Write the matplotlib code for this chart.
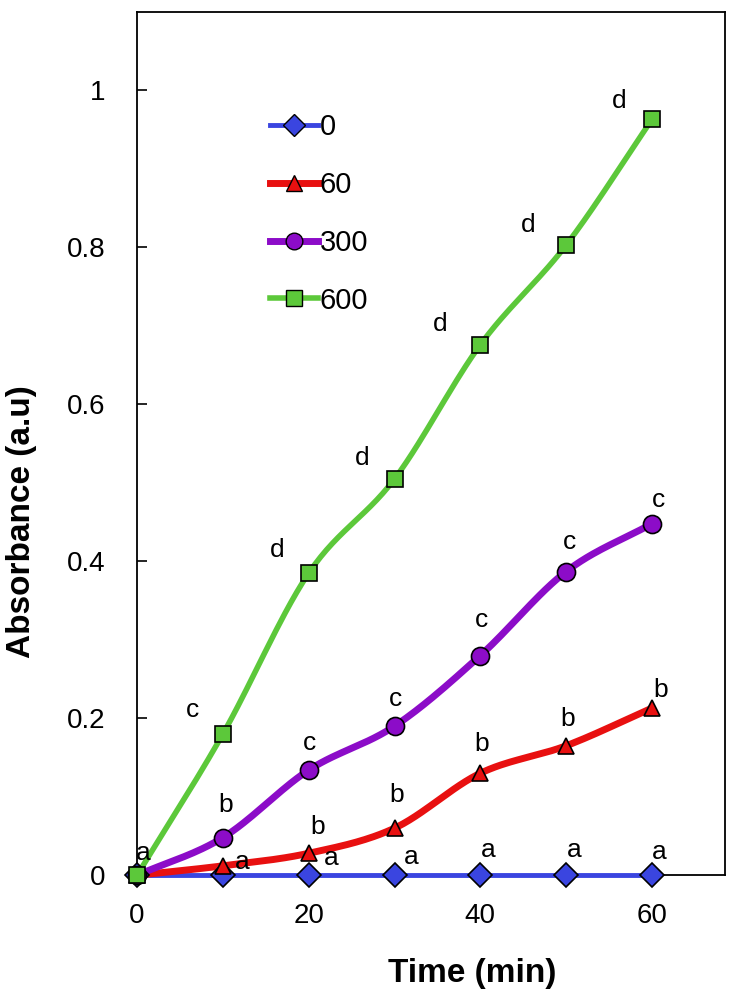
import numpy as np
import matplotlib
matplotlib.use("Agg")
import matplotlib.pyplot as plt

plt.rcParams['font.family'] = ['Liberation Sans', 'DejaVu Sans']

# data
time = [0, 10, 20, 30, 40, 50, 60]
series_names = ["0", "60", "300", "600"]
abs_0 = [0, 0, 0, 0, 0, 0, 0]
abs_60 = [0, 0.012, 0.028, 0.06, 0.13, 0.165, 0.213]
abs_300 = [0, 0.048, 0.134, 0.19, 0.28, 0.387, 0.448]
abs_600 = [0, 0.18, 0.385, 0.505, 0.676, 0.803, 0.963]

# significance letters (x, y, letter)
letters_x = [0.7, 12.2, 22.6, 31.9, 40.9, 50.9, 60.8,
             21.0, 30.2, 40.2, 50.2, 61.0,
             10.3, 20.1, 30.1, 40.1, 50.4, 60.8,
             6.5, 16.3, 26.2, 35.3, 45.6, 56.2]
letters_y = [0.028, 0.017, 0.022, 0.023, 0.032, 0.032, 0.03,
             0.061, 0.102, 0.167, 0.199, 0.236,
             0.089, 0.169, 0.224, 0.325, 0.425, 0.478,
             0.21, 0.414, 0.532, 0.702, 0.829, 0.987]
letters = ["a", "a", "a", "a", "a", "a", "a",
           "b", "b", "b", "b", "b",
           "b", "c", "c", "c", "c", "c",
           "c", "d", "d", "d", "d", "d"]


def smooth(x, y, n=30):
    # catmull-rom style smoothing like excel's smoothed lines
    x = np.asarray(x, float)
    y = np.asarray(y, float)
    px = np.concatenate([[2 * x[0] - x[1]], x, [2 * x[-1] - x[-2]]])
    py = np.concatenate([[2 * y[0] - y[1]], y, [2 * y[-1] - y[-2]]])
    xs, ys = [], []
    for i in range(1, len(px) - 2):
        t = np.linspace(0, 1, n)
        for p, out in ((px, xs), (py, ys)):
            p0, p1, p2, p3 = p[i - 1], p[i], p[i + 1], p[i + 2]
            out.extend(0.5 * ((2 * p1) + (-p0 + p2) * t
                              + (2 * p0 - 5 * p1 + 4 * p2 - p3) * t ** 2
                              + (-p0 + 3 * p1 - 3 * p2 + p3) * t ** 3))
    return np.array(xs), np.array(ys)


fig = plt.figure(figsize=(7.33, 9.98), dpi=100)
ax = fig.add_axes([0.187, 0.123, 0.802, 0.865])

styles = [
    (abs_0, "#3a45e0", "D", 3.5, 12),
    (abs_60, "#e81010", "^", 5, 12),
    (abs_300, "#8c0cc8", "o", 5, 13),
    (abs_600, "#5cc83a", "s", 4, 12),
]
handles = []
for (vals, col, mk, lw, ms), name in zip(styles, series_names):
    sx, sy = smooth(time, vals)
    ax.plot(sx, sy, color=col, lw=lw, zorder=2.6, solid_capstyle="round",
            clip_on=False)
    ax.plot(time, vals, ls="none", marker=mk, ms=ms, mfc=col, mec="black",
            mew=1.2, zorder=3, clip_on=False)
    h, = ax.plot([], [], color=col, lw=lw, marker=mk, ms=ms - 1, mfc=col,
                 mec="black", mew=1.0)
    handles.append(h)

for x, y, t in zip(letters_x, letters_y, letters):
    ax.text(x, y, t, fontsize=19, ha="center", va="center", zorder=4)

ax.set_xlim(0, 68.5)
ax.set_ylim(0, 1.1)
ax.set_xticks([0, 20, 40, 60])
ax.set_yticks([0, 0.2, 0.4, 0.6, 0.8, 1.0])
ax.set_yticklabels(["0", "0.2", "0.4", "0.6", "0.8", "1"])
ax.tick_params(direction="in", labelsize=20, length=7, width=1.2)
ax.tick_params(axis="x", pad=20, length=0)
ax.tick_params(axis="y", pad=23)
for s in ax.spines.values():
    s.set_linewidth(1.3)

ax.set_xlabel("Time (min)", fontsize=24, fontweight="bold")
ax.set_ylabel("Absorbance (a.u)", fontsize=24, fontweight="bold")
ax.xaxis.set_label_coords(0.57, -0.096)
ax.yaxis.set_label_coords(-0.17, 0.41)

ax.legend(handles, series_names, loc="upper left", bbox_to_anchor=(0.182, 0.913),
          frameon=False, fontsize=21, handlelength=1.62, handletextpad=0.07,
          labelspacing=1.02)

fig.savefig("out.png", dpi=100)
